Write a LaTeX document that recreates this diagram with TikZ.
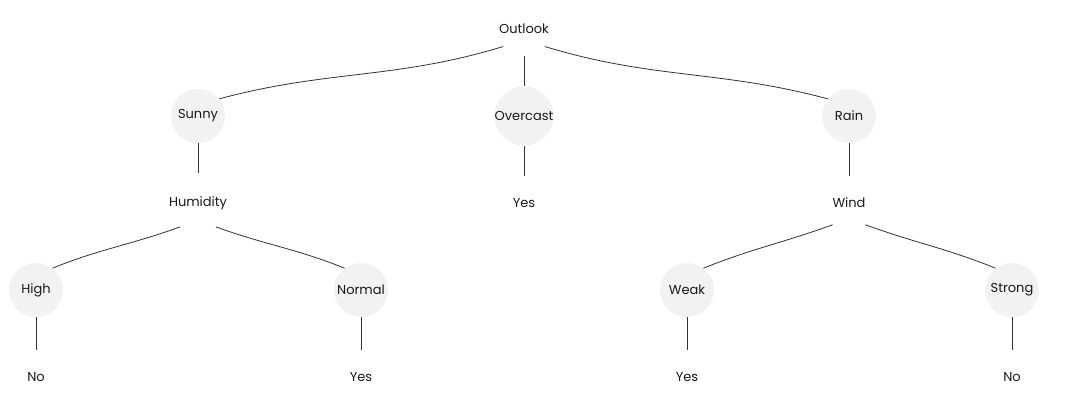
\documentclass[tikz,border=0pt]{standalone}
\usepackage{fontspec}
\setmainfont{Poppins}
\begin{document}
\begin{tikzpicture}[x=0.75pt,y=-0.75pt,
  nd/.style={circle,minimum size=40.5pt,inner sep=0pt,font=\fontsize{9.75}{11}\selectfont,text=black!90},
  val/.style={nd,fill=black!5},
  edge/.style={draw=black!80,line width=0.6pt}]
\useasboundingbox (0,0) rectangle (1068,417);
\node[nd] (o) at (524,29) {Outlook};
\node[val] (s) at (198,116) {Sunny};
\node[val] (ov) at (524,116) {Overcast};
\node[val] (r) at (849,116) {Rain};
\node[nd] (h) at (198,203) {Humidity};
\node[nd] (y1) at (524,203) {Yes};
\node[nd] (w) at (849,203) {Wind};
\node[val] (hi) at (36,290) {High};
\node[val] (no) at (361,290) {Normal};
\node[val] (we) at (687,290) {Weak};
\node[val] (st) at (1012,290) {Strong};
\node[nd] (l1) at (36,377) {No};
\node[nd] (l2) at (361,377) {Yes};
\node[nd] (l3) at (687,377) {Yes};
\node[nd] (l4) at (1012,377) {No};
\draw[edge] (o.220) to[out=197,in=15] (s.39);
\draw[edge] (o.-40) to[out=-17,in=165] (r.141);
\draw[edge] (o) -- (ov);
\draw[edge] (s) -- (h);
\draw[edge] (ov) -- (y1);
\draw[edge] (r) -- (w);
\draw[edge] (h.233) to[out=200,in=22] (hi.53);
\draw[edge] (h.-53) to[out=-20,in=158] (no.127);
\draw[edge] (w.233) to[out=200,in=22] (we.53);
\draw[edge] (w.-53) to[out=-20,in=158] (st.127);
\draw[edge] (hi) -- (l1);
\draw[edge] (no) -- (l2);
\draw[edge] (we) -- (l3);
\draw[edge] (st) -- (l4);
\end{tikzpicture}
\end{document}
